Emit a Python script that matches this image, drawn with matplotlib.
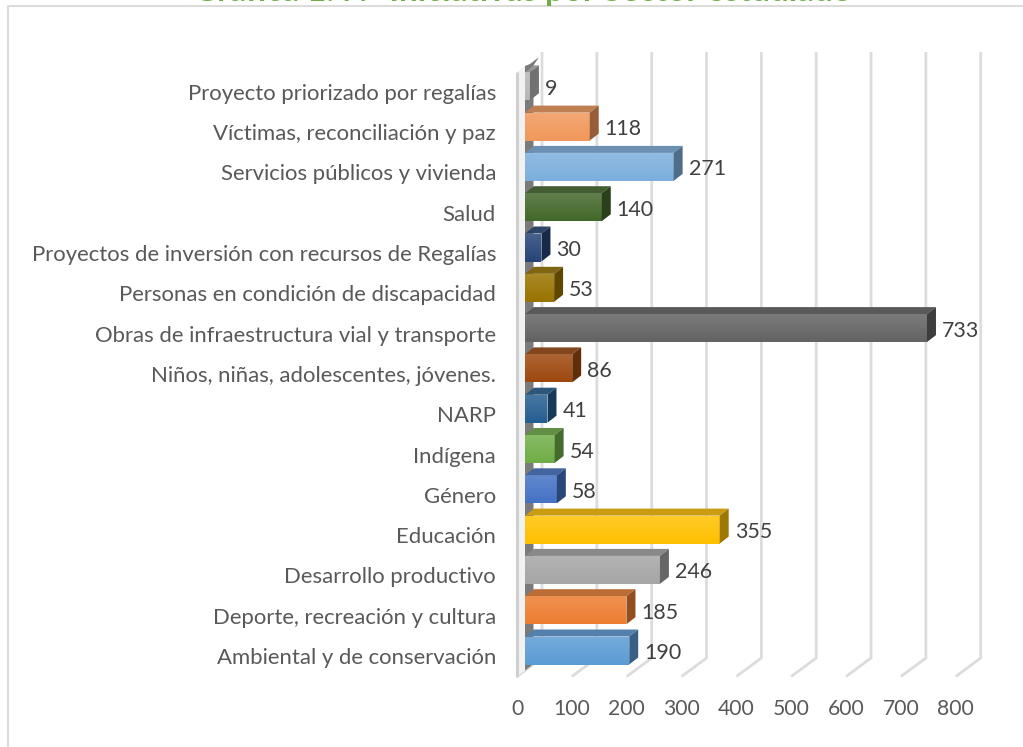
import numpy as np
import matplotlib
matplotlib.use("Agg")
import matplotlib.pyplot as plt
from matplotlib.lines import Line2D
from matplotlib.patches import Polygon
from matplotlib.transforms import ScaledTranslation
from matplotlib.colors import to_rgb

TITLE = "Gráfica 1. N° Iniciativas por Sector estudiado"
categories = ["Ambiental y de conservación", "Deporte, recreación y cultura",
              "Desarrollo productivo", "Educación", "Género", "Indígena", "NARP",
              "Niños, niñas, adolescentes, jóvenes.",
              "Obras de infraestructura vial y transporte",
              "Personas en condición de discapacidad",
              "Proyectos de inversión con recursos de Regalías", "Salud",
              "Servicios públicos y vivienda", "Víctimas, reconciliación y paz",
              "Proyecto priorizado por regalías"]
values = [190, 185, 246, 355, 58, 54, 41, 86, 733, 53, 30, 140, 271, 118, 9]
colors = ["#5B9BD5", "#ED7D31", "#A5A5A5", "#FFC000", "#4472C4", "#70AD47", "#255E91",
          "#9E480E", "#636363", "#997300", "#264478", "#43682B", "#7CAFDD", "#F1975A",
          "#B7B7B7"]
x_ticks = [0, 100, 200, 300, 400, 500, 600, 700, 800]

W, H = 1023, 747
TXT = "#595959"
GRID = "#dcdcdc"
plt.rcParams["font.family"] = ["Lato", "DejaVu Sans"]

fig = plt.figure(figsize=(W / 100, H / 100), dpi=100, facecolor="white")
# pixel geometry of the plot box
px_x0, px_x1 = 517, 517 + 0.5484 * 800
px_step = 40.3
px_cat0 = 650.5
px_floor, px_top = 676.5, 72
ax = fig.add_axes([px_x0 / W, 1 - px_floor / H, (px_x1 - px_x0) / W, (px_floor - px_top) / H])
ax.set_xlim(0, 800)
ax.set_ylim((px_cat0 - px_floor) / px_step, (px_cat0 - px_top) / px_step)
ux = 800 / (px_x1 - px_x0)   # data per px, x
uy = 1 / px_step             # data per px, y
y0, y1 = ax.get_ylim()

for s in ax.spines.values():
    s.set_visible(False)
ax.patch.set_visible(False)

# walls
back_dx, back_dy = 25 * ux, 18.5 * uy
top_y = y1 + 20 * uy
wall = dict(clip_on=False, solid_capstyle="butt", solid_joinstyle="miter")
for v in x_ticks:
    ax.plot([v, v + back_dx, v + back_dx], [y0, y0 + back_dy, top_y], color=GRID, lw=2, zorder=1, **wall)
ax.add_patch(Polygon([(0, y0), (8 * ux, y0 + 6 * uy), (8 * ux, y1 + 6 * uy), (0, y1)],
                     fc="#f2f2f2", ec="none", zorder=2, clip_on=False))
ax.plot([0, 0], [y0, y1], color="#d0d0d0", lw=2.2, zorder=2, **wall)
ax.add_patch(Polygon([(8 * ux, y0 + 6 * uy), (16.5 * ux, y0 + 12.5 * uy), (16.5 * ux, y1 + 6.5 * uy),
                      (22 * ux, y1 + 15 * uy), (13 * ux, y1 + 8 * uy), (8 * ux, y1 + 6 * uy)],
                     fc="#7a7a7a", ec="none", zorder=2, clip_on=False))

# bars
origin = 8 * ux
bar_h = 28 * uy
dx, dy = 9 * ux, 7 * uy
pos = np.arange(len(values))
ax.barh(pos, values, height=bar_h, left=origin, color=colors, zorder=3, clip_on=False)
white = np.ones((64, 1, 4))
white[:, 0, 3] = np.linspace(0.16, 0.0, 64)
for i, (v, c) in enumerate(zip(values, colors)):
    b, t = i - bar_h / 2, i + bar_h / 2
    x1 = origin + v
    rgb = np.array(to_rgb(c))
    ax.imshow(white, extent=(origin, x1, b, t), origin="upper", aspect="auto", zorder=4, interpolation="bilinear", clip_on=False)
    ax.add_patch(Polygon([(origin, t), (origin + dx, t + dy), (x1 + dx, t + dy), (x1, t)],
                         fc=rgb * 0.72 + 0.07, ec="none", zorder=3, clip_on=False))
    ax.add_patch(Polygon([(x1, b), (x1 + dx, b + dy), (x1 + dx, t + dy), (x1, t)],
                         fc=rgb * 0.62, ec="none", zorder=3, clip_on=False))
    ax.text(x1 + dx + 6 * ux, i - 2.5 * uy, str(v), ha="left", va="center", fontsize=15.4, color="#404040", zorder=5)
ax.set_xlim(0, 800)
ax.set_ylim(y0, y1)

# tick labels
ax.set_xticks(x_ticks)
ax.set_xticklabels([str(v) for v in x_ticks])
ax.tick_params(axis="x", length=0, pad=16, labelsize=15.2, labelcolor=TXT)
ax.set_yticks(pos)
ax.set_yticklabels(categories)
ax.tick_params(axis="y", length=0, pad=15.1, labelsize=15.9, labelcolor=TXT)
shift = ScaledTranslation(0, -4 / 72, fig.dpi_scale_trans)
for lab in ax.get_yticklabels():
    lab.set_transform(lab.get_transform() + shift)

# chart frame and clipped title
fig.add_artist(Line2D([8 / W, 8 / W, 1], [0, 1 - 6 / H, 1 - 6 / H], color=GRID, lw=1.5))
fig.text(522 / W, 1 - 1 / H, TITLE, ha="center", va="baseline", fontsize=23.9, fontweight="bold", color="#70AD47")

fig.savefig("out.png", dpi=100)
